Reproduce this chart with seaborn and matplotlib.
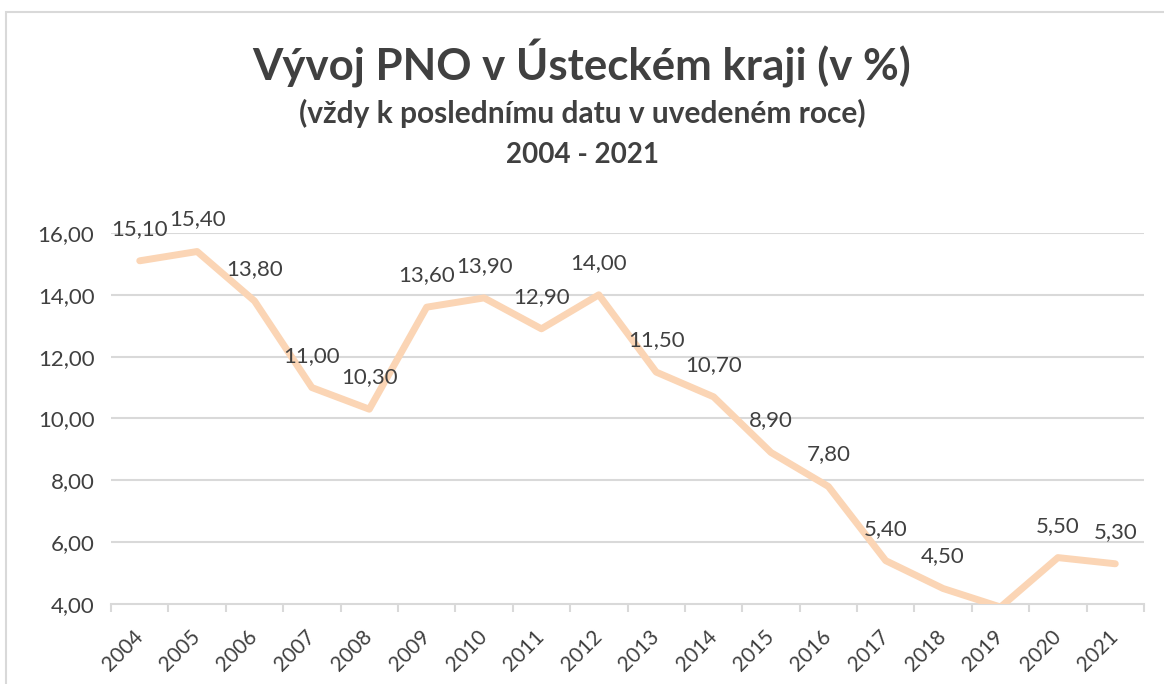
import numpy as np
import pandas as pd
import matplotlib
matplotlib.use("Agg")
import matplotlib.pyplot as plt
import seaborn as sns
from matplotlib.patches import Rectangle

# ── data ────────────────────────────────────────────────────────────────────
years = ["2004", "2005", "2006", "2007", "2008", "2009", "2010", "2011", "2012",
         "2013", "2014", "2015", "2016", "2017", "2018", "2019", "2020", "2021"]
pno = [15.1, 15.4, 13.8, 11.0, 10.3, 13.6, 13.9, 12.9, 14.0,
       11.5, 10.7, 8.9, 7.8, 5.4, 4.5, 3.9, 5.5, 5.3]
yticks = [4, 6, 8, 10, 12, 14, 16]

TITLE = "Vývoj PNO v Ústeckém kraji (v %)"
SUBTITLE = "(vždy k poslednímu datu v uvedeném roce)"
PERIOD = "2004 - 2021"

TEXT = "#404040"
GRID = "#D9D9D9"
LINE = "#FBD5B5"

sns.set_theme(style="white")
plt.rcParams["font.family"] = ["Lato", "DejaVu Sans"]

df = pd.DataFrame({"pos": np.arange(len(years)), "val": pno})

fig = plt.figure(figsize=(11.64, 6.84), dpi=100)
ax = fig.add_axes([0.0954, 0.117, 0.8874, 0.5424])

# frame around the chart (Excel chart area border)
fig.patches.append(Rectangle((6 / 1164, -0.05), 1.2, 1 - 12 / 684 + 0.05,
                             transform=fig.transFigure, fill=False,
                             edgecolor="#D9D9D9", linewidth=1.5))

ax.set_ylim(yticks[0], yticks[-1])
ax.set_xlim(-0.5, len(years) - 0.5)
for t in yticks[1:]:
    ax.axhline(t, color=GRID, linewidth=1.5, zorder=0)

sns.lineplot(data=df, x="pos", y="val", ax=ax, color=LINE, linewidth=5,
             solid_capstyle="round", solid_joinstyle="round", zorder=3)

# data labels (hidden when point falls below the axis, as in Excel)
for x, v in zip(df["pos"], df["val"]):
    if v < yticks[0]:
        continue
    ax.annotate(f"{v:.2f}".replace(".", ","), (x, v), xytext=(0, 23),
                textcoords="offset points", ha="center", va="center",
                fontsize=16, color=TEXT)

ax.set_yticks(yticks)
ax.set_yticklabels([f"{t:.2f}".replace(".", ",") for t in yticks],
                   fontsize=16, color=TEXT)
ax.set_xticks(df["pos"])
ax.set_xticklabels(years, rotation=45, ha="right", va="center",
                   rotation_mode="anchor", fontsize=15, color=TEXT)
ax.set_xticks(np.arange(-0.5, len(years)), minor=True)
ax.tick_params(axis="x", which="major", length=0, pad=21)
ax.tick_params(axis="x", which="minor", length=6, width=1.5, color=GRID,
               direction="out", bottom=True)
ax.tick_params(axis="y", length=0, pad=12)
ax.set_xlabel("")
ax.set_ylabel("")

for side in ["top", "right", "left"]:
    ax.spines[side].set_visible(False)
ax.spines["bottom"].set_color(GRID)
ax.spines["bottom"].set_linewidth(1.5)

fig.text(0.5, 1 - 64 / 684, TITLE, ha="center", va="center",
         fontsize=31.5, fontweight="bold", color=TEXT)
fig.text(0.5, 1 - 113 / 684, SUBTITLE, ha="center", va="center",
         fontsize=21.5, fontweight="bold", color=TEXT)
fig.text(0.5, 1 - 155 / 684, PERIOD, ha="center", va="center",
         fontsize=20, fontweight="bold", color=TEXT)

fig.savefig("out.png", dpi=100, facecolor="white")
plt.close(fig)
